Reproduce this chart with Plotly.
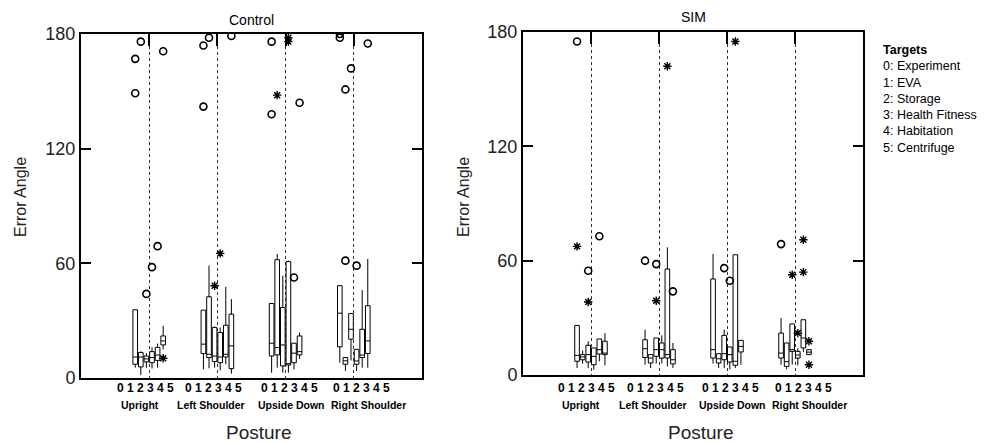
import plotly.graph_objects as go

# ---------------- data ----------------
postures = ["Upright", "Left Shoulder", "Upside Down", "Right Shoulder"]
target_digits = ["0", "1", "2", "3", "4", "5"]
legend_title = "Targets"
targets = ["0: Experiment", "1: EVA", "2: Storage", "3: Health Fitness",
           "4: Habitation", "5: Centrifuge"]
y_ticks = [0, 60, 120, 180]
panel_titles = ["Control", "SIM"]

# Control: per posture, per target (0..5)
ctrl_lo = [[5.4, 1.5, 5.4, 5.0, 5.4, 15.0],
           [4.5, 5.1, 5.4, 4.0, 7.2, 2.3],
           [2.8, 5.4, 2.8, 2.8, 4.5, 10.0],
           [8.0, 3.7, 9.2, 3.7, 5.4, 5.4]]
ctrl_q1 = [[7.2, 5.8, 8.4, 8.0, 9.2, 17.3],
           [12.8, 10.7, 8.6, 8.0, 11.0, 4.9],
           [11.5, 12.1, 6.3, 6.8, 8.0, 12.1],
           [16.3, 7.2, 20.3, 7.2, 10.7, 12.8]]
ctrl_med = [[11.0, 11.0, 10.0, 10.7, 12.0, 19.4],
            [17.7, 12.4, 11.5, 11.0, 12.4, 16.8],
            [18.2, 15.9, 17.3, 7.5, 13.0, 13.8],
            [33.9, 9.0, 25.5, 8.9, 12.0, 19.4]]
ctrl_q3 = [[35.7, 13.3, 11.5, 13.8, 16.0, 22.0],
           [35.5, 42.5, 26.4, 23.8, 27.6, 33.4],
           [39.0, 61.9, 36.9, 60.9, 18.2, 22.0],
           [48.3, 10.7, 33.7, 15.0, 25.5, 37.8]]
ctrl_hi = [[35.7, 14.0, 13.0, 16.0, 18.0, 27.3],
           [35.5, 58.8, 27.0, 26.4, 47.7, 41.3],
           [39.0, 64.9, 53.5, 61.5, 18.2, 23.8],
           [48.3, 10.7, 33.7, 15.0, 46.0, 62.3]]
# outliers: (posture index, target index, value)
ctrl_circles = [(0, 0, 167), (0, 0, 149), (0, 1, 176), (0, 2, 44), (0, 3, 58),
                (0, 4, 69), (0, 5, 171),
                (1, 0, 174), (1, 0, 142), (1, 1, 178), (1, 5, 179),
                (2, 0, 176), (2, 0, 138), (2, 4, 52.6), (2, 5, 144),
                (3, 0, 180), (3, 0, 178), (3, 1, 151), (3, 1, 61.4),
                (3, 2, 162), (3, 3, 58.8), (3, 5, 175)]
ctrl_stars = [(0, 5, 10.3), (1, 2, 48.3), (1, 3, 65.2),
              (2, 1, 148), (2, 3, 178), (2, 3, 176)]

# SIM
sim_lo = [[3.7, 6.0, 3.7, 2.8, 7.2, 5.1],
          [5.4, 3.7, 6.0, 6.0, 4.5, 3.7],
          [6.0, 3.7, 3.7, 3.0, 3.7, 5.4],
          [5.4, 3.0, 5.4, 5.0, 12.0, 10.7]]
sim_q1 = [[7.2, 8.0, 6.8, 5.4, 11.0, 10.7],
          [9.2, 6.3, 9.8, 8.9, 8.9, 5.8],
          [8.9, 6.3, 8.0, 6.8, 5.1, 12.1],
          [8.9, 4.5, 12.4, 8.9, 14.2, 10.7]]
sim_med = [[10.3, 9.5, 10.7, 9.8, 13.3, 11.5],
           [13.8, 8.9, 13.3, 13.3, 10.7, 8.0],
           [13.3, 8.5, 11.2, 10.7, 7.2, 15.0],
           [11.5, 7.0, 13.3, 10.5, 19.4, 12.0]]
sim_q3 = [[26.0, 10.7, 15.6, 14.2, 18.9, 17.7],
          [18.5, 10.7, 19.4, 16.8, 55.6, 13.3],
          [50.4, 11.2, 20.8, 14.7, 63.1, 18.2],
          [22.0, 16.8, 26.8, 12.4, 29.0, 13.3]]
sim_hi = [[26.0, 12.8, 17.7, 14.2, 18.9, 22.0],
          [23.8, 10.7, 19.4, 20.8, 67.0, 16.8],
          [63.5, 11.2, 23.8, 14.7, 63.1, 18.2],
          [29.9, 16.8, 26.8, 14.0, 29.0, 13.3]]
sim_circles = [(0, 0, 175), (0, 2, 54.7), (0, 4, 72.8),
               (1, 0, 60), (1, 2, 58.2), (1, 5, 43.9),
               (2, 2, 56.1), (2, 3, 49.5),
               (3, 0, 68.7)]
sim_stars = [(0, 0, 67.5), (0, 2, 38.3),
             (1, 2, 39), (1, 4, 162),
             (2, 4, 175),
             (3, 2, 52.6), (3, 3, 22), (3, 4, 71), (3, 4, 54),
             (3, 5, 17.7), (3, 5, 5.4)]

# ---------------- style / layout constants ----------------
FONT = "Arial, Liberation Sans, sans-serif"
W, H = 997, 443
STEP = 0.082          # spacing between target boxes inside a posture group
BOX_W = 0.068
digit_shift = [-0.06, -0.05, 0.05, 0.12]
label_shift = [-0.14, -0.09, 0.08, 0.22]


def xpos(p, t):
    return (p + 1) + (t - 2.5) * STEP


def add_panel(fig, lo, q1, med, q3, hi, circles, stars, xa, ya):
    xs, L, Q1, M, Q3, U = [], [], [], [], [], []
    for p in range(len(postures)):
        for t in range(len(target_digits)):
            xs.append(xpos(p, t))
            L.append(lo[p][t]); Q1.append(q1[p][t]); M.append(med[p][t])
            Q3.append(q3[p][t]); U.append(hi[p][t])
    fig.add_trace(go.Box(x=xs, q1=Q1, median=M, q3=Q3, lowerfence=L, upperfence=U,
                         width=BOX_W, whiskerwidth=0, boxpoints=False,
                         fillcolor="white", line=dict(color="black", width=1),
                         xaxis=xa, yaxis=ya, showlegend=False, hoverinfo="skip"))
    fig.add_trace(go.Scatter(x=[xpos(p, t) for p, t, v in circles],
                             y=[v for p, t, v in circles], mode="markers",
                             marker=dict(symbol="circle-open", size=7, color="black",
                                         line=dict(width=1.6)),
                             xaxis=xa, yaxis=ya, showlegend=False, hoverinfo="skip"))
    fig.add_trace(go.Scatter(x=[xpos(p, t) for p, t, v in stars],
                             y=[v for p, t, v in stars], mode="markers",
                             marker=dict(symbol="asterisk-open", size=7, color="black",
                                         line=dict(width=1.4, color="black")),
                             xaxis=xa, yaxis=ya, showlegend=False, hoverinfo="skip"))


fig = go.Figure()
add_panel(fig, ctrl_lo, ctrl_q1, ctrl_med, ctrl_q3, ctrl_hi, ctrl_circles, ctrl_stars, "x", "y")
add_panel(fig, sim_lo, sim_q1, sim_med, sim_q3, sim_hi, sim_circles, sim_stars, "x2", "y2")

panels = [
    dict(xd=(81, 422), yd=(34, 378)),
    dict(xd=(523, 863), yd=(32, 375)),
]


def xaxis_cfg(xd, anchor):
    return dict(domain=[xd[0] / W, xd[1] / W], range=[0, 5], anchor=anchor,
                side="top", ticks="inside", tickvals=[1, 2, 3, 4], ticklen=12,
                tickwidth=1.5, tickcolor="black", showticklabels=False,
                showline=True, linecolor="black", linewidth=2, mirror=True,
                showgrid=True, gridcolor="#333", griddash="dot", gridwidth=1,
                zeroline=False, fixedrange=True, automargin=False)


def yaxis_cfg(yd, anchor):
    return dict(domain=[(H - yd[1]) / H, (H - yd[0]) / H], range=[0, 180], anchor=anchor,
                tickvals=y_ticks, ticks="inside", ticklen=10, tickwidth=1.5,
                tickcolor="black", showline=True, linecolor="black", linewidth=2,
                mirror="ticks", showgrid=False, zeroline=False, automargin=False,
                tickfont=dict(family=FONT, size=18, color="#222"), fixedrange=True)


annotations = []
axis_ids = [("x", "y"), ("x2", "y2")]
title_y = [20, 17]
posture_title_x = [258, 700]
err_title_x = [20, 463]
for i, pnl in enumerate(panels):
    xd = pnl["xd"]
    cx = (xd[0] + xd[1]) / 2
    xa = axis_ids[i][0]
    annotations.append(dict(text=panel_titles[i], x=cx / W, y=(H - title_y[i]) / H,
                            xref="paper", yref="paper", showarrow=False,
                            xanchor="center", yanchor="middle",
                            font=dict(family=FONT, size=14, color="black")))
    annotations.append(dict(text="Posture", x=posture_title_x[i] / W, y=(H - 432) / H,
                            xref="paper", yref="paper", showarrow=False,
                            xanchor="center", yanchor="middle",
                            font=dict(family=FONT, size=19, color="#222")))
    annotations.append(dict(text="Error Angle", x=err_title_x[i] / W, y=(H - 197) / H,
                            xref="paper", yref="paper", showarrow=False, textangle=-90,
                            xanchor="center", yanchor="middle",
                            font=dict(family=FONT, size=16, color="#222")))
    for p, name in enumerate(postures):
        annotations.append(dict(text="<b>" + " ".join(target_digits) + "</b>",
                                x=p + 1 + digit_shift[p],
                                y=(H - 388) / H, xref=xa, yref="paper", showarrow=False,
                                xanchor="center", yanchor="middle",
                                font=dict(family=FONT, size=12, color="black")))
        annotations.append(dict(text="<b>" + name + "</b>", x=p + 1 + label_shift[p],
                                y=(H - 405) / H, xref=xa, yref="paper", showarrow=False,
                                xanchor="center", yanchor="middle",
                                font=dict(family=FONT, size=10.5, color="black")))

# legend (one multi-line text block)
legend_text = "<b>" + legend_title + "</b><br>" + "<br>".join(targets)
annotations.append(dict(text=legend_text, x=881 / W, y=(H - 41) / H,
                        xref="paper", yref="paper", showarrow=False, align="left",
                        xanchor="left", yanchor="top",
                        font=dict(family=FONT, size=12.5, color="black")))

fig.update_layout(
    width=W, height=H, autosize=False,
    margin=dict(l=0, r=0, t=0, b=0, autoexpand=False),
    paper_bgcolor="white", plot_bgcolor="white",
    showlegend=False,
    xaxis=xaxis_cfg(panels[0]["xd"], "y"),
    yaxis=yaxis_cfg(panels[0]["yd"], "x"),
    xaxis2=xaxis_cfg(panels[1]["xd"], "y2"),
    yaxis2=yaxis_cfg(panels[1]["yd"], "x2"),
    annotations=annotations,
)

fig.write_html("out.html", config={"displayModeBar": False},
               post_script="document.body.style.margin='0';"
                           "document.body.style.overflow='hidden';")
